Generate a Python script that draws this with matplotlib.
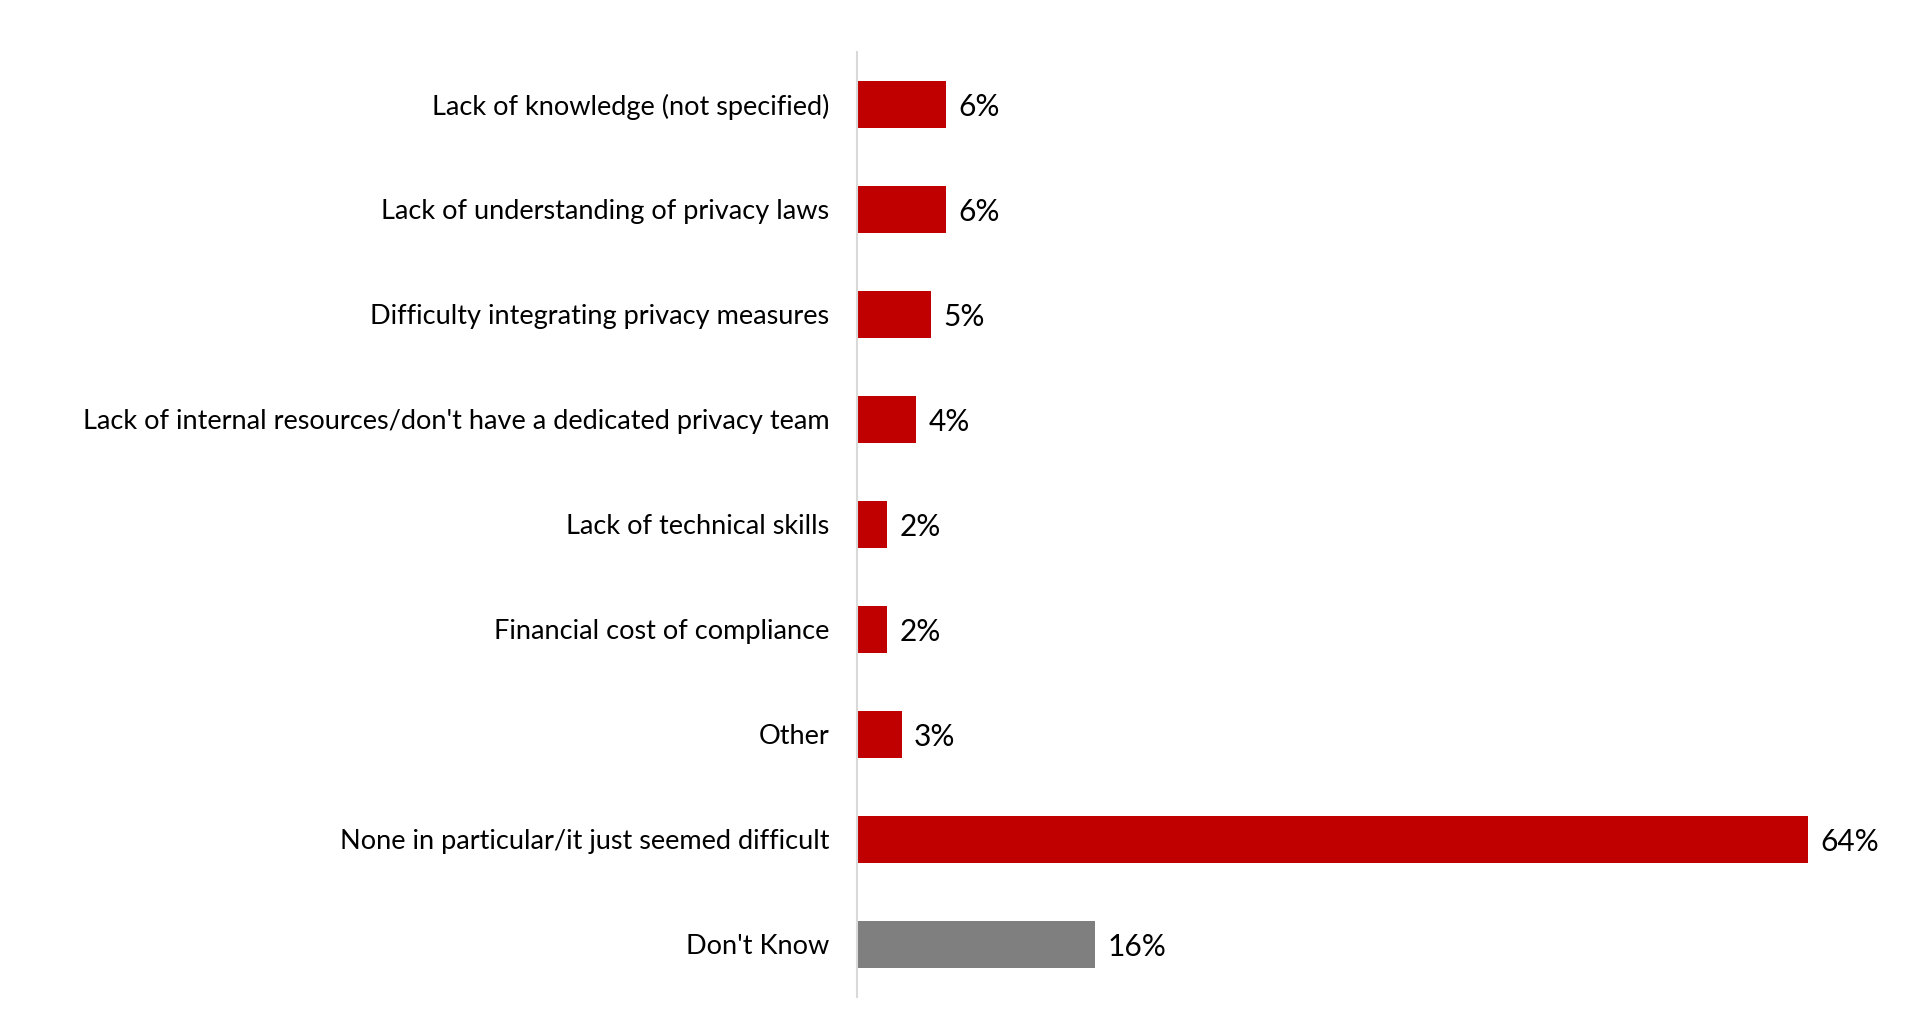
import matplotlib
matplotlib.use("Agg")
import matplotlib.pyplot as plt

categories = [
    "Lack of knowledge (not specified)",
    "Lack of understanding of privacy laws",
    "Difficulty integrating privacy measures",
    "Lack of internal resources/don't have a dedicated privacy team",
    "Lack of technical skills",
    "Financial cost of compliance",
    "Other",
    "None in particular/it just seemed difficult",
    "Don't Know",
]
values = [6, 6, 5, 4, 2, 2, 3, 64, 16]
bar_colors = ["#C00000"] * 8 + ["#7F7F7F"]

plt.rcParams["font.family"] = ["Lato", "DejaVu Sans"]

fig = plt.figure(figsize=(19.31, 10.10), dpi=100)
ax = fig.add_axes([857 / 1931, 13 / 1010, 1000 / 1931, 945 / 1010])

y = list(range(len(categories)))
bars = ax.barh(y, values, height=0.45, color=bar_colors)
texts = ax.bar_label(bars, labels=[f"{v}%" for v in values], padding=9, fontsize=21.5)
for t in texts:
    t.set_va("center_baseline")

ax.set_ylim(len(categories) - 0.5, -0.5)
ax.set_xlim(0, 67.3)
ax.set_yticks(y, categories, fontsize=19.5)
ax.tick_params(axis="y", length=0, pad=20)
ax.set_xticks([])
ax.spines[["top", "right", "bottom"]].set_visible(False)
ax.spines["left"].set_color("#D9D9D9")
ax.spines["left"].set_linewidth(1.5)

fig.savefig("out.png", dpi=100)
